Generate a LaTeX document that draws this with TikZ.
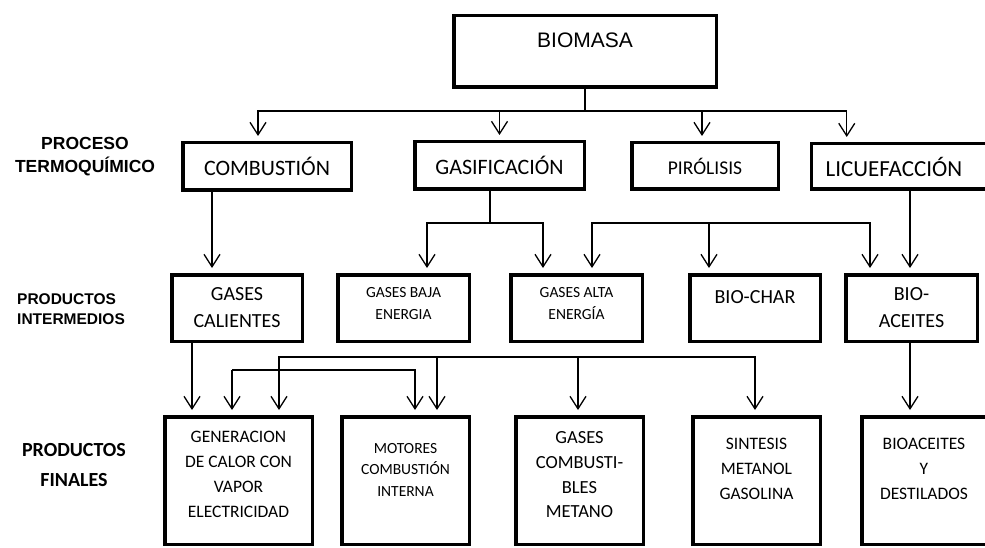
\documentclass[tikz,border=0pt]{standalone}
\usepackage{fontspec}
\setmainfont{Carlito}
\newfontfamily\arialf{Liberation Sans}
\usetikzlibrary{arrows.meta}
\newcommand{\fs}[2]{\fontsize{#1}{#2}\selectfont}
\begin{document}
\begin{tikzpicture}[x=1pt,y=-1pt,
  box/.style={draw=black, line width=3.5pt, inner sep=0pt, fill=white, align=center},
  lbl/.style={align=center, inner sep=0pt, text=black},
  conn/.style={line width=1.3pt},
  arr/.style={conn, -{Straight Barb[length=12.5pt,width=16pt]}, shorten >=5pt},
]
\useasboundingbox[fill=white] (0,0) rectangle (985,548);

% left labels
\node[lbl, font=\arialf\bfseries\fs{17.5}{23}] (lproc) at (85,156.5) {PROCESO\\TERMOQUÍMICO};
\node[lbl, align=left, anchor=west, font=\arialf\bfseries\fs{15.5}{20}] (linter) at (17,309) {PRODUCTOS\\INTERMEDIOS};
\node[lbl, font=\bfseries\fs{20}{30}] (lfin) at (74,465) {PRODUCTOS\\FINALES};

% top
\node[box, minimum width=262.5pt, minimum height=71.5pt] (bio) at (585,51.5) {};
\node[lbl, font=\arialf\fs{21}{25}] (bio-t) at ([yshift=11.5pt]bio.center) {BIOMASA};

% row 1
\node[box, minimum width=168.5pt, minimum height=47.5pt, font=\fs{22}{26}] (comb) at (267,166.5) {COMBUSTIÓN};
\node[box, minimum width=169.5pt, minimum height=47.5pt, font=\fs{22}{26}] (gasi) at (499.5,165.5) {GASIFICACIÓN};
\node[box, minimum width=146.5pt, minimum height=46.5pt, font=\fs{19.5}{24}] (piro) at (705,166) {PIRÓLISIS};
\node[box, minimum width=190pt, minimum height=45.5pt] (licu) at (906.5,166.5) {};
\node[lbl, font=\fs{23}{27}] (licu-t) at ([xshift=-12.5pt]licu.center) {LICUEFACCIÓN};

% row 2
\node[box, minimum width=130.5pt, minimum height=66.5pt, font=\fs{20}{27}] (gcal) at (237,308) {GASES\\CALIENTES};
\node[box, minimum width=131.5pt, minimum height=66.5pt] (gbaja) at (403.5,308) {};
\node[lbl, font=\fs{15.5}{22}] (gbaja-t) at ([yshift=4pt]gbaja.center) {GASES BAJA\\ENERGIA};
\node[box, minimum width=131.5pt, minimum height=66.5pt] (galta) at (576.5,308) {};
\node[lbl, font=\fs{15.5}{22}] (galta-t) at ([yshift=4pt]galta.center) {GASES ALTA\\ENERGÍA};
\node[box, minimum width=130.5pt, minimum height=66.5pt] (bchar) at (755,308) {};
\node[lbl, font=\fs{20}{27}] (bchar-t) at ([yshift=11pt]bchar.center) {BIO-CHAR};
\node[box, minimum width=131.5pt, minimum height=66.5pt, font=\fs{20}{27}] (bace) at (911.5,308) {BIO-\\ACEITES};

% row 3
\node[box, minimum width=147.5pt, minimum height=127.5pt] (gen) at (238.5,480.5) {};
\node[lbl, font=\fs{17.5}{25}] (gen-t) at ([yshift=6pt]gen.center) {GENERACION\\DE CALOR CON\\VAPOR\\ELECTRICIDAD};
\node[box, minimum width=127.5pt, minimum height=127.5pt] (mot) at (405.5,480.5) {};
\node[lbl, font=\fs{15.5}{21.5}] (mot-t) at ([yshift=11pt]mot.center) {MOTORES\\COMBUSTIÓN\\INTERNA};
\node[box, minimum width=127.5pt, minimum height=127.5pt] (gcomb) at (579.5,480.5) {};
\node[lbl, font=\fs{18.5}{24.7}] (gcomb-t) at ([yshift=5.5pt]gcomb.center) {GASES\\COMBUSTI-\\BLES\\METANO};
\node[box, minimum width=127.5pt, minimum height=127.5pt] (sint) at (756.5,480.5) {};
\node[lbl, font=\fs{17.5}{25}] (sint-t) at ([yshift=11.5pt]sint.center) {SINTESIS\\METANOL\\GASOLINA};
\node[box, minimum width=124.5pt, minimum height=127.5pt] (bioac) at (924,480.5) {};
\node[lbl, font=\fs{17.5}{25}] (bioac-t) at ([yshift=11.5pt]bioac.center) {BIOACEITES\\Y\\DESTILADOS};

% connectors: biomasa
\coordinate (j1) at (585,111);
\draw[conn] (bio.south) -- (j1);
\draw[arr] (j1) -| ([xshift=-9pt]comb.north);
\draw[arr] (j1) -| (gasi.north);
\draw[arr] (j1) -| ([xshift=-3pt]piro.north);
\draw[arr] (j1) -| ([xshift=37pt]licu.north west);

% row1 -> row2
\draw[arr] ([xshift=-55pt]comb.south) -- ([xshift=-25pt]gcal.north);
\coordinate (j2) at (490,223);
\draw[conn] ([xshift=-9.5pt]gasi.south) -- (j2);
\draw[arr] (j2) -| ([xshift=23.5pt]gbaja.north);
\draw[arr] (j2) -| ([xshift=-33.5pt]galta.north);
\coordinate (j3) at (709,223);
\draw[arr] (j3) -| ([xshift=15.5pt]galta.north);
\draw[arr] (j3) -- ([xshift=-46pt]bchar.north);
\draw[arr] (j3) -| ([xshift=-41.5pt]bace.north);
\draw[arr] ([xshift=3.5pt]licu.south) -- ([xshift=-1.5pt]bace.north);

% row2 -> row3
\draw[arr] ([xshift=-45pt]gcal.south) -- ([xshift=-46.5pt]gen.north);
\coordinate (j4) at (578,357);
\draw[arr] (j4) -| ([xshift=40.5pt]gen.north);
\draw[arr] (j4) -| ([xshift=31.5pt]mot.north);
\draw[arr] (j4) -- ([xshift=-1.5pt]gcomb.north);
\draw[arr] (j4) -| ([xshift=-1.5pt]sint.north);
\coordinate (j5) at (232,370);
\draw[arr] (j5) -- ([xshift=-6.5pt]gen.north);
\draw[arr] (j5) -| ([xshift=9.5pt]mot.north);
\draw[arr] ([xshift=-1.5pt]bace.south) -- ([xshift=-14pt]bioac.north);
\end{tikzpicture}
\end{document}
